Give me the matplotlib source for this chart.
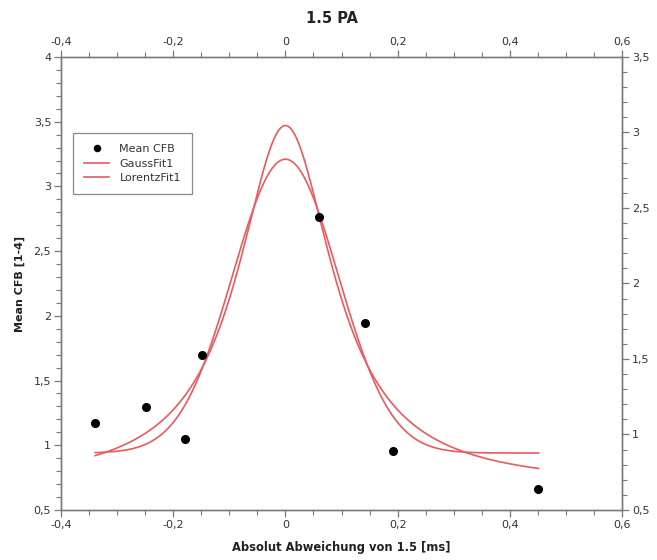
import matplotlib.pyplot as plt
import numpy as np
from matplotlib.ticker import MultipleLocator, FuncFormatter

# measured points
x_pts = [-0.339, -0.249, -0.179, -0.149, 0.060, 0.142, 0.191, 0.451]
y_pts = [1.172, 1.296, 1.050, 1.700, 2.764, 1.948, 0.958, 0.660]

# fit parameters
gauss_y0, gauss_h, gauss_xc, gauss_s = 0.94, 2.27, 0.0, 0.094
lor_y0, lor_h, lor_xc, lor_g = 0.68, 2.79, 0.0, 0.104
fit_range = (-0.339, 0.451)

fit_color = "#ea5a5e"
spine_color = "#7a7a7a"
text_color = "#333333"


def comma(v, pos):
    s = f"{v:g}"
    return s.replace(".", ",")


xf = np.linspace(fit_range[0], fit_range[1], 400)
gauss = gauss_y0 + gauss_h * np.exp(-((xf - gauss_xc) ** 2) / (2 * gauss_s ** 2))
lorentz = lor_y0 + lor_h / (1 + ((xf - lor_xc) / lor_g) ** 2)

fig = plt.figure(figsize=(6.57, 5.60), dpi=100)
ax = fig.add_axes([0.0928, 0.0893, 0.854, 0.809])

ax.plot(x_pts, y_pts, "o", color="black", markersize=5.5, label="Mean CFB", zorder=3)
ax.plot(xf, gauss, color=fit_color, lw=1.2, label="GaussFit1")
ax.plot(xf, lorentz, color=fit_color, lw=1.2, label="LorentzFit1")

ax.set_xlim(-0.4, 0.6)
ax.set_ylim(0.5, 4.0)
ax.xaxis.set_major_locator(MultipleLocator(0.2))
ax.xaxis.set_minor_locator(MultipleLocator(0.05))
ax.yaxis.set_major_locator(MultipleLocator(0.5))
ax.yaxis.set_minor_locator(MultipleLocator(0.1))
ax.xaxis.set_major_formatter(FuncFormatter(comma))
ax.yaxis.set_major_formatter(FuncFormatter(comma))
ax.tick_params(axis="x", which="both", top=True, labeltop=True)

ax2 = ax.twinx()
ax2.set_ylim(0.5, 3.5)
ax2.yaxis.set_major_locator(MultipleLocator(0.5))
ax2.yaxis.set_minor_locator(MultipleLocator(0.1))
ax2.yaxis.set_major_formatter(FuncFormatter(comma))

for a in (ax, ax2):
    for sp in a.spines.values():
        sp.set_color(spine_color)
        sp.set_linewidth(1.0)
    a.tick_params(which="major", direction="out", length=5, width=0.9,
                  color=spine_color, labelsize=8, labelcolor=text_color, pad=2)
    a.tick_params(which="minor", direction="out", length=3.5, width=0.8,
                  color=spine_color)

ax.set_xlabel("Absolut Abweichung von 1.5 [ms]", fontsize=8.3, fontweight="bold",
              color="#222222", labelpad=8)
ax.set_ylabel("Mean CFB [1-4]", fontsize=8, fontweight="bold", color="#222222",
              labelpad=6)
fig.text(0.505, 0.967, "1.5 PA", ha="center", va="center", fontsize=10.5,
         fontweight="bold", color="#222222")

leg = ax.legend(loc="upper left", bbox_to_anchor=(0.021, 0.832), fontsize=8,
                frameon=True, fancybox=False, edgecolor="#888888", framealpha=1,
                borderpad=1.0, handlelength=2.3, handletextpad=0.9,
                labelspacing=0.4, borderaxespad=0, markerscale=0.8)
leg.get_frame().set_linewidth(0.9)
for t in leg.get_texts():
    t.set_color(text_color)

fig.savefig("out.png", dpi=100, facecolor="white")
